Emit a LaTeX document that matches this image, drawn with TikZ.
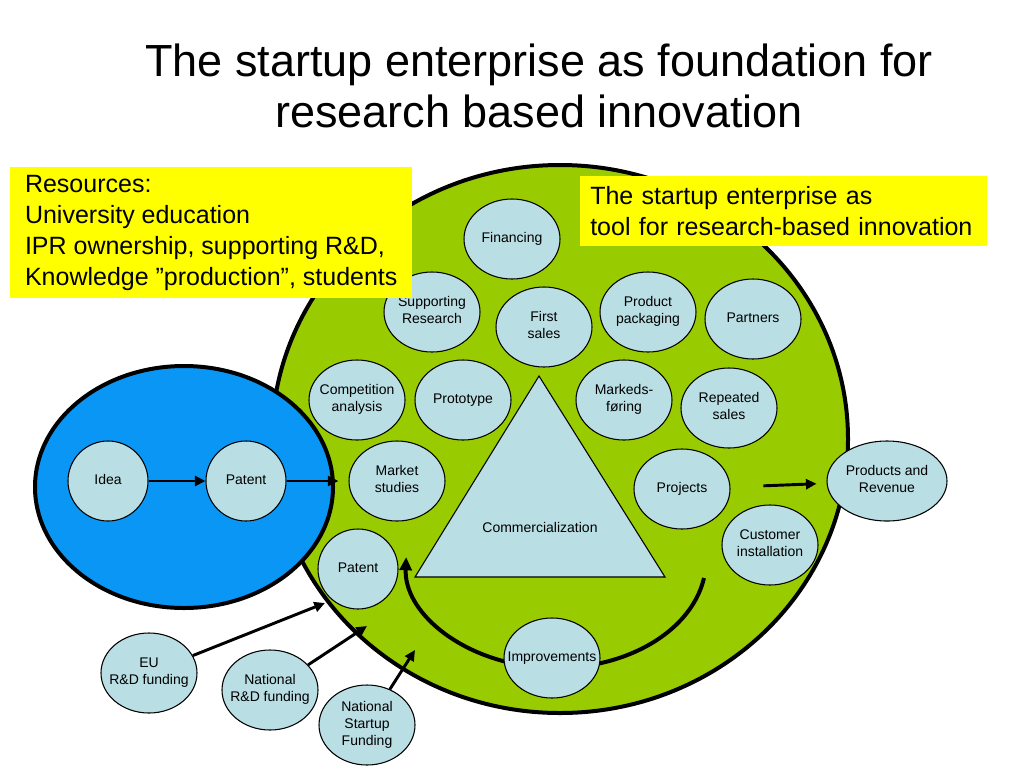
\documentclass[tikz,border=0pt]{standalone}
\usepackage{fontspec}
\setmainfont{Liberation Sans}
\usetikzlibrary{shapes.geometric,arrows.meta}
\definecolor{greenc}{RGB}{153,204,0}
\definecolor{bluec}{RGB}{10,150,245}
\definecolor{bubc}{RGB}{185,222,228}
\definecolor{yelc}{RGB}{255,255,0}
\newcommand{\cellt}[1]{\makebox[0pt]{\begin{tabular}{@{}c@{}}#1\end{tabular}}}
\begin{document}
\begin{tikzpicture}[x=0.75pt,y=-0.75pt,
  bub/.style={ellipse, draw=black, line width=0.8pt, fill=bubc, minimum width=72pt, minimum height=60pt, inner sep=0pt, font=\fontsize{10.5}{12.75}\selectfont},
  circ/.style={bub, minimum width=60pt},
  arr/.style={line width=2.2pt, -{Triangle[length=8pt,width=7.5pt]}},
  carr/.style={line width=3pt, -{Triangle[length=10pt,width=9pt]}},
  region/.style={draw=black, line width=3pt},
  ybox/.style={fill=yelc, inner ysep=0pt, align=left, font=\fontsize{18.75}{23.25}\selectfont},
  titlef/.style={inner sep=0pt, align=center, font=\fontsize{33.75}{38.25}\selectfont}]
\useasboundingbox (0,0) rectangle (1024,768);
\fill[white] (0,0) rectangle (1024,768);

% regions
\draw[region, fill=greenc] (560,439) ellipse [x radius=288, y radius=274];
\draw[region, fill=bluec] (184,487) ellipse [x radius=149, y radius=121];

% commercialization triangle
\draw[fill=bubc, line width=0.8pt] (539,376) -- (665,577) -- (415,577) -- cycle;
\node[font=\fontsize{10.5}{12.75}\selectfont] (comm) at (540,527) {Commercialization};

% improvement loop
\coordinate (cs) at (704,578);
\draw[carr] (cs) arc[start angle=9.6, end angle=181.6, x radius=150, y radius=108];

% bubbles
\node[bub] (fin) at (512,239) {\cellt{Financing}};
\node[bub] (supp) at (432,312) {\cellt{Supporting\\Research}};
\node[bub] (first) at (544,327) {\cellt{First\\sales}};
\node[bub] (pack) at (648,312) {\cellt{Product\\packaging}};
\node[bub] (part) at (753,319) {\cellt{Partners}};
\node[bub] (comp) at (357,400) {\cellt{Competition\\analysis}};
\node[bub] (proto) at (463,400) {\cellt{Prototype}};
\node[bub] (mark) at (624,400) {\cellt{Markeds-\\føring}};
\node[bub] (rep) at (729,408) {\cellt{Repeated\\sales}};
\node[bub] (mkt) at (397,481) {\cellt{Market\\studies}};
\node[bub] (proj) at (682,489) {\cellt{Projects}};
\node[bub] (cust) at (770,545) {\cellt{Customer\\installation}};
\node[circ] (pat2) at (358,569) {\cellt{Patent}};
\node[bub] (impr) at (552,658) {\cellt{Improvements}};
\node[circ] (idea) at (108,481) {\cellt{Idea}};
\node[circ] (pat1) at (246,481) {\cellt{Patent}};
\node[bub, minimum width=90pt] (prod) at (887,481) {\cellt{Products and\\Revenue}};
\node[bub] (eu) at (149,673) {\cellt{EU\\R\&D funding}};
\node[bub] (nat) at (270,690) {\cellt{National\\R\&D funding}};
\node[bub] (start) at (367,725) {\cellt{National\\Startup\\Funding}};

% arrows
\draw[arr] (idea) -- (pat1);
\draw[arr, shorten >=7.5pt] (pat1) -- (mkt);
\draw[arr, shorten <=24.75pt, shorten >=7.5pt] (proj) -- (prod);
\coordinate (t1) at (325,603);
\coordinate (t2) at (367,626);
\coordinate (t3) at (415,650);
\draw[arr] (eu) -- (t1);
\draw[arr] (nat) -- (t2);
\draw[arr] (start) -- (t3);

% yellow boxes
\node[ybox, anchor=north west, minimum width=301.5pt, minimum height=98.25pt, inner xsep=10pt] (res) at (10,167)
  {Resources:\\University education\\IPR ownership, supporting R\&D,\\Knowledge ”production”, students};
\node[ybox, anchor=north west, minimum width=305.25pt, minimum height=52.5pt, inner xsep=7.5pt, text width=290.25pt] (tool) at (580,176)
  {The startup enterprise as\\tool for research-based innovation};

% title
\node[titlef, anchor=north] (title) at (539,44) {The startup enterprise as foundation for\\research based innovation};
\end{tikzpicture}
\end{document}
